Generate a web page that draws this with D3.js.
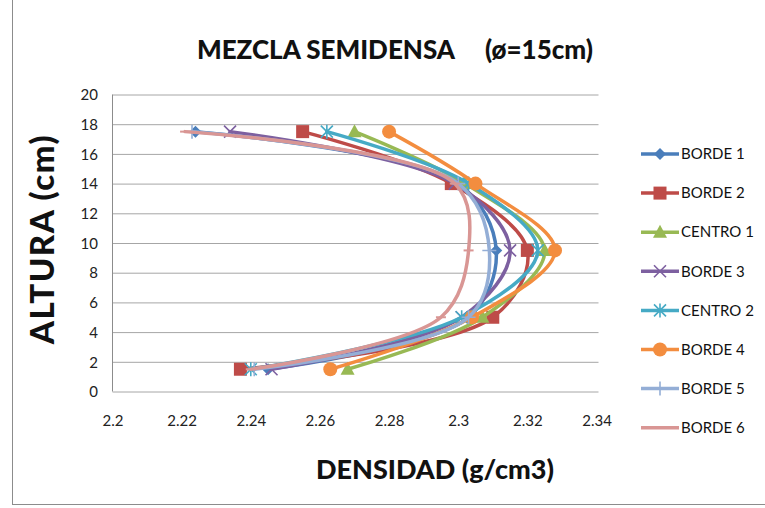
<!DOCTYPE html>
<html>
<head>
<meta charset="utf-8">
<script src="https://cdn.jsdelivr.net/npm/d3@7/dist/d3.min.js"></script>
<style>
  html, body { margin: 0; padding: 0; background: #fff; }
  svg { display: block; }
  text { font-family: Lato, "Open Sans", sans-serif; }
</style>
</head>
<body>
<svg id="chart" width="765" height="508"></svg>
<script>
// Heights of the measurement points (cm)
const heights = [17.5, 14, 9.5, 5, 1.5];

// Density (g/cm3) at each height, one array per specimen zone
const borde1  = [2.224, 2.300, 2.311, 2.303, 2.245];
const borde2  = [2.255, 2.298, 2.320, 2.310, 2.237];
const centro1 = [2.270, 2.302, 2.325, 2.307, 2.268];
const borde3  = [2.234, 2.299, 2.315, 2.301, 2.246];
const centro2 = [2.262, 2.303, 2.323, 2.301, 2.240];
const borde4  = [2.280, 2.305, 2.328, 2.304, 2.263];
const borde5  = [2.223, 2.300, 2.309, 2.303, 2.241];
const borde6  = [2.221, 2.299, 2.303, 2.295, 2.240];

const seriesNames = ["BORDE 1", "BORDE 2", "CENTRO 1", "BORDE 3", "CENTRO 2", "BORDE 4", "BORDE 5", "BORDE 6"];
const seriesValues = [borde1, borde2, centro1, borde3, centro2, borde4, borde5, borde6];
const seriesColors = ["#4A7EBB", "#BE4B48", "#98B954", "#7D60A0", "#46AAC5", "#F38D3F", "#94AED6", "#D99694"];
const seriesMarkers = ["diamond", "square", "triangle", "x", "asterisk", "circle", "plus", "dash"];

const xTicks = [2.2, 2.22, 2.24, 2.26, 2.28, 2.3, 2.32, 2.34];
const yTicks = [0, 2, 4, 6, 8, 10, 12, 14, 16, 18, 20];

const svg = d3.select("#chart");

// Outer chart frame
svg.append("rect")
  .attr("x", 12.5).attr("y", -2).attr("width", 760).attr("height", 506.5)
  .attr("fill", "none").attr("stroke", "#8c8c8c").attr("stroke-width", 1);

const x = d3.scaleLinear().domain([2.2, 2.34]).range([112.5, 596.5]);
const y = d3.scaleLinear().domain([0, 20]).range([391.5, 94.5]);

// Horizontal gridlines
const grid = svg.append("g")
  .attr("transform", "translate(112.5,0)")
  .call(d3.axisLeft(y).tickValues(yTicks).tickSize(-486).tickFormat(""));
grid.select(".domain").remove();
grid.selectAll("line").attr("stroke", "#a6a6a6").attr("stroke-width", 1);

// Vertical axis line
svg.append("line")
  .attr("x1", 112.5).attr("x2", 112.5).attr("y1", 94.5).attr("y2", 391.5)
  .attr("stroke", "#8c8c8c");

// Y tick labels
const yAxis = svg.append("g")
  .attr("transform", "translate(104,0)")
  .call(d3.axisLeft(y).tickValues(yTicks).tickSize(0).tickFormat(d3.format("d")));
yAxis.select(".domain").remove();
yAxis.selectAll("text")
  .attr("x", -6).attr("dy", "0.35em")
  .style("font-size", "15px").attr("fill", "#222");

// X tick labels
const xAxis = svg.append("g")
  .attr("transform", "translate(0,412)")
  .call(d3.axisBottom(x).tickValues(xTicks).tickSize(0).tickFormat(d => String(d)));
xAxis.select(".domain").remove();
xAxis.selectAll("text")
  .attr("dy", "0.71em")
  .style("font-size", "15px").attr("fill", "#222");

// Titles
svg.append("text")
  .attr("x", 395).attr("y", 59)
  .attr("text-anchor", "middle")
  .style("font-size", "26px").style("font-weight", "900")
  .attr("fill", "#111")
  .attr("xml:space", "preserve")
  .text("MEZCLA SEMIDENSA     (ø=15cm)");

svg.append("text")
  .attr("x", 435).attr("y", 479)
  .attr("text-anchor", "middle")
  .style("font-size", "27px").style("font-weight", "900")
  .attr("fill", "#111")
  .text("DENSIDAD (g/cm3)");

svg.append("text")
  .attr("transform", "translate(54,239) rotate(-90)")
  .attr("text-anchor", "middle")
  .style("font-size", "33px").style("font-weight", "900")
  .style("letter-spacing", "1.5px")
  .attr("fill", "#111")
  .text("ALTURA (cm)");

// Marker shapes
function drawMarker(g, type, color, cx, cy) {
  const s = 6;
  if (type === "diamond") {
    g.append("path").attr("d", `M${cx},${cy - s}L${cx + s},${cy}L${cx},${cy + s}L${cx - s},${cy}Z`).attr("fill", color);
  } else if (type === "square") {
    g.append("rect").attr("x", cx - 6.5).attr("y", cy - 6.5).attr("width", 13).attr("height", 13).attr("fill", color);
  } else if (type === "triangle") {
    g.append("path").attr("d", `M${cx},${cy - 7.5}L${cx + 7},${cy + 5.5}L${cx - 7},${cy + 5.5}Z`).attr("fill", color);
  } else if (type === "circle") {
    g.append("circle").attr("cx", cx).attr("cy", cy).attr("r", 7).attr("fill", color);
  } else if (type === "x") {
    g.append("path").attr("d", `M${cx - 6},${cy - 6}L${cx + 6},${cy + 6}M${cx - 6},${cy + 6}L${cx + 6},${cy - 6}`)
      .attr("stroke", color).attr("stroke-width", 1.6).attr("fill", "none");
  } else if (type === "asterisk") {
    g.append("path").attr("d", `M${cx - 6},${cy - 6}L${cx + 6},${cy + 6}M${cx - 6},${cy + 6}L${cx + 6},${cy - 6}M${cx},${cy - 7}L${cx},${cy + 7}`)
      .attr("stroke", color).attr("stroke-width", 1.6).attr("fill", "none");
  } else if (type === "plus") {
    g.append("path").attr("d", `M${cx - 7},${cy}L${cx + 7},${cy}M${cx},${cy - 7}L${cx},${cy + 7}`)
      .attr("stroke", color).attr("stroke-width", 1.6).attr("fill", "none");
  } else if (type === "dash") {
    g.append("path").attr("d", `M${cx - 5},${cy}L${cx + 5},${cy}`)
      .attr("stroke", color).attr("stroke-width", 2).attr("fill", "none");
  }
}

// Smoothed series lines with markers
const line = d3.line()
  .x(d => x(d[0]))
  .y(d => y(d[1]))
  .curve(d3.curveCatmullRom.alpha(0.5));

const plot = svg.append("g");
seriesValues.forEach((vals, i) => {
  const g = plot.append("g");
  const pts = vals.map((v, j) => [v, heights[j]]);
  g.append("path")
    .attr("d", line(pts))
    .attr("fill", "none")
    .attr("stroke", seriesColors[i])
    .attr("stroke-width", 3.5)
    .attr("stroke-linecap", "round");
  pts.forEach(p => drawMarker(g, seriesMarkers[i], seriesColors[i], x(p[0]), y(p[1])));
});

// Legend
const legend = svg.append("g");
seriesNames.forEach((name, i) => {
  const ly = 154 + i * 39.1;
  const g = legend.append("g");
  g.append("line")
    .attr("x1", 641).attr("x2", 679).attr("y1", ly).attr("y2", ly)
    .attr("stroke", seriesColors[i]).attr("stroke-width", 3.5);
  drawMarker(g, seriesMarkers[i], seriesColors[i], 660, ly);
  g.append("text")
    .attr("x", 681).attr("y", ly).attr("dy", "0.35em")
    .style("font-size", "15px").attr("fill", "#111")
    .text(name);
});
</script>
</body>
</html>
